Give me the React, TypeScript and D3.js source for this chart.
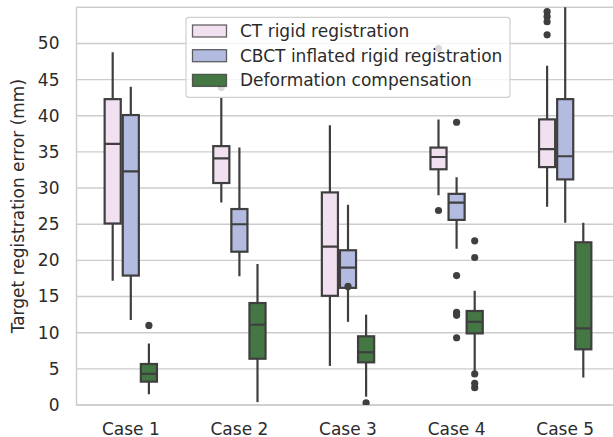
import React from "react";
import * as d3 from "d3";

const categories = ["Case 1", "Case 2", "Case 3", "Case 4", "Case 5"];
const seriesNames = ["CT rigid registration", "CBCT inflated rigid registration", "Deformation compensation"];
const seriesColors = ["#f0e0f0", "#b4bbe0", "#447744"];
const yTicks = [0, 5, 10, 15, 20, 25, 30, 35, 40, 45, 50];

// [whiskerLow, q1, median, q3, whiskerHigh] per case
const ctStats = [
  [17.2, 25.1, 36.1, 42.3, 48.8],
  [28.0, 30.7, 34.1, 35.8, 42.6],
  [5.4, 15.1, 21.9, 29.4, 38.7],
  [29.0, 32.6, 34.3, 35.6, 39.5],
  [27.4, 32.9, 35.4, 39.5, 46.9],
];
const ctOutliers = [[], [43.9], [], [26.9, 49.3], [54.4, 53.7, 53.0, 51.2]];

const cbctStats = [
  [11.75, 17.9, 32.3, 40.1, 44.0],
  [17.8, 21.2, 25.0, 27.1, 35.6],
  [11.5, 16.2, 19.0, 21.4, 27.7],
  [21.6, 25.6, 28.0, 29.2, 31.5],
  [25.2, 31.2, 34.4, 42.3, 60.0],
];
const cbctOutliers = [[], [], [16.4], [39.1, 17.9, 12.8, 12.4, 9.3], []];

const defStats = [
  [1.5, 3.23, 4.3, 5.67, 8.5],
  [0.4, 6.4, 11.1, 14.1, 19.5],
  [1.15, 5.9, 7.3, 9.5, 12.5],
  [4.6, 9.9, 11.5, 13.0, 15.8],
  [3.8, 7.7, 10.6, 22.5, 25.2],
];
const defOutliers = [[11.0], [], [0.3], [22.7, 20.4, 4.3, 3.0, 2.4], []];

const allStats = [ctStats, cbctStats, defStats];
const allOutliers = [ctOutliers, cbctOutliers, defOutliers];

const W = 613;
const H = 437;
const left = 76.5;
const right = 619.5;
const top = 7.3;
const bottom = 405;
const lineColor = "#3f3f3f";
const gridColor = "#cccccc";
const textColor = "#2b2b2b";
const font = "DejaVu Sans, sans-serif";
const fs = 17;

export default function App() {
  const x = d3.scaleBand<string>().domain(categories).range([left, right]).paddingInner(0).paddingOuter(0);
  const y = d3.scaleLinear().domain([0, 55]).range([bottom, top]);
  const bw = x.bandwidth();
  const boxW = (bw * 0.5) / 3;

  return (
    <svg width={W} height={H} style={{ position: "absolute", left: 0, top: 0, background: "#fff" }}>
      <defs>
        <clipPath id="plot">
          <rect x={left} y={top} width={right - left} height={bottom - top} />
        </clipPath>
      </defs>
      <rect x={0} y={0} width={W} height={H} fill="#fff" />
      {yTicks.map((t) => (
        <line key={t} x1={left} x2={right} y1={y(t)} y2={y(t)} stroke={gridColor} strokeWidth={1.4} />
      ))}
      <rect x={left} y={top} width={right - left} height={bottom - top} fill="none" stroke={gridColor} strokeWidth={1.4} />
      <g clipPath="url(#plot)">
        {categories.map((c, ci) =>
          allStats.map((stats, si) => {
            const cx = (x(c) as number) + bw / 2 + (si - 1) * boxW;
            const [lo, q1, med, q3, hi] = stats[ci];
            return (
              <g key={c + si}>
                <line x1={cx} x2={cx} y1={y(q1)} y2={y(lo)} stroke={lineColor} strokeWidth={2.2} />
                <line x1={cx} x2={cx} y1={y(q3)} y2={y(hi)} stroke={lineColor} strokeWidth={2.2} />
                <rect
                  x={cx - boxW / 2 + 1}
                  width={boxW - 2}
                  y={y(q3)}
                  height={y(q1) - y(q3)}
                  fill={seriesColors[si]}
                  stroke={lineColor}
                  strokeWidth={2.2}
                />
                <line x1={cx - boxW / 2 + 1} x2={cx + boxW / 2 - 1} y1={y(med)} y2={y(med)} stroke={lineColor} strokeWidth={2.2} />
                {allOutliers[si][ci].map((o, oi) => (
                  <circle key={oi} cx={cx} cy={y(o)} r={3.6} fill={lineColor} />
                ))}
              </g>
            );
          })
        )}
      </g>
      {yTicks.map((t) => (
        <text key={t} x={59.5} y={y(t)} dy="0.35em" textAnchor="end" fontFamily={font} fontSize={fs} fill={textColor}>
          {t}
        </text>
      ))}
      {categories.map((c) => (
        <text key={c} x={(x(c) as number) + bw / 2} y={435} textAnchor="middle" fontFamily={font} fontSize={fs} fill={textColor}>
          {c}
        </text>
      ))}
      <text
        transform={`translate(24,${(top + bottom) / 2}) rotate(-90)`}
        textAnchor="middle"
        fontFamily={font}
        fontSize={fs}
        fill={textColor}
      >
        Target registration error (mm)
      </text>
      <g>
        <rect x={186} y={17.3} width={324} height={80} rx={3} fill="#fff" fillOpacity={0.8} stroke="#d0d0d0" strokeWidth={1.2} />
        {seriesNames.map((n, i) => (
          <g key={n}>
            <rect x={192.5} y={25 + i * 24.7} width={34} height={12} fill={seriesColors[i]} stroke={lineColor} strokeWidth={1.3} strokeOpacity={0.8} />
            <text x={240} y={31 + i * 24.7} dy="0.35em" fontFamily={font} fontSize={fs} fill={textColor}>
              {n}
            </text>
          </g>
        ))}
      </g>
    </svg>
  );
}
